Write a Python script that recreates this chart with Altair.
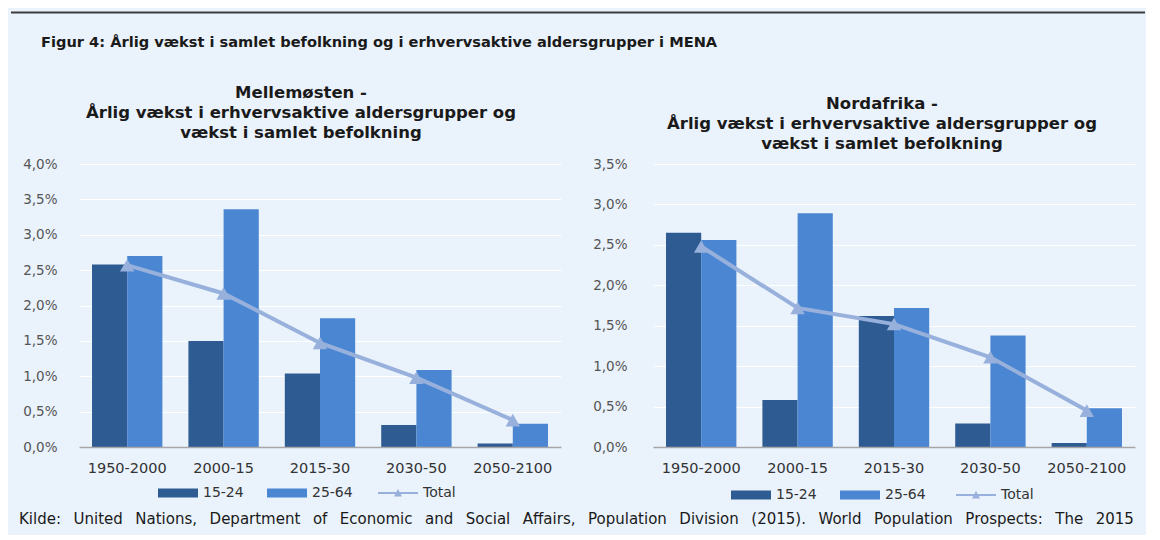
import altair as alt
import pandas as pd

periods = ["1950-2000", "2000-15", "2015-30", "2030-50", "2050-2100"]
bar_series = ["15-24", "25-64"]
total_name = ["Total"]

me_1524 = [2.58, 1.50, 1.04, 0.31, 0.05]
me_2564 = [2.70, 3.36, 1.82, 1.09, 0.33]
me_total = [2.57, 2.17, 1.47, 0.98, 0.38]

na_1524 = [2.65, 0.58, 1.62, 0.29, 0.05]
na_2564 = [2.56, 2.89, 1.72, 1.38, 0.48]
na_total = [2.48, 1.72, 1.52, 1.11, 0.45]

main_title = "Figur 4: Årlig vækst i samlet befolkning og i erhvervsaktive aldersgrupper i MENA"
left_title = ["Mellemøsten -", "Årlig vækst i erhvervsaktive aldersgrupper og", "vækst i samlet befolkning"]
right_title = ["Nordafrika  -", "Årlig vækst i erhvervsaktive aldersgrupper og", "vækst i samlet befolkning"]
source_words = ["Kilde:", "United", "Nations,", "Department", "of", "Economic", "and", "Social",
                "Affairs,", "Population", "Division", "(2015).", "World", "Population",
                "Prospects:", "The", "2015"]
source = " \u00a0\u2009".join(source_words)

DARK = "#2F5B93"
LIGHT = "#4B86D2"
TOTAL = "#97B0DC"
BG = "#EAF2FB"
FONT = "DejaVu Sans"

RECT = "M-1,-0.22H1V0.22H-1Z"
LINE_TRI = "M-1,-0.05H1V0.05H-1Z M-0.2,0.17L0,-0.2L0.2,0.17Z"

W, H = 482, 283
one = alt.Data(values=[{"k": 1}])


def panel(title_lines, v1, v2, tot, ymax, title_dx, title_offset, lx, ly, lx2, lpad):
    bar_df = pd.DataFrame({
        "period": periods * 2,
        "series": [bar_series[0]] * 5 + [bar_series[1]] * 5,
        "value": v1 + v2,
    })
    tot_df = pd.DataFrame({"period": periods, "value": tot, "name": total_name * 5})

    x_enc = alt.X("period:N", sort=periods, title=None,
                  scale=alt.Scale(paddingInner=0.27, paddingOuter=0.135),
                  axis=alt.Axis(labelAngle=0, ticks=False, domainColor="#A6A6A6",
                                domainWidth=1.5, labelPadding=14, labelFont=FONT,
                                labelFontSize=14.5, labelColor="#333333", zindex=1))
    y_enc = alt.Y("value:Q", title=None,
                  scale=alt.Scale(domain=[0, ymax], nice=False),
                  axis=alt.Axis(values=[i * 0.5 for i in range(int(ymax / 0.5) + 1)],
                                labelExpr="replace(format(datum.value, '.1f'), '.', ',') + '%'",
                                ticks=False, domain=False, gridColor="#FFFFFF",
                                gridWidth=1, labelPadding=lpad, labelFont=FONT,
                                labelFontSize=13.5, labelColor="#555555"))
    xoff = alt.XOffset("series:N", scale=alt.Scale(domain=bar_series))
    common = dict(orient="none", direction="horizontal", title=None, symbolSize=1600,
                  labelFont=FONT, labelFontSize=14, labelColor="#333333",
                  columnPadding=23, labelOffset=5, symbolStrokeWidth=0, padding=0)

    bars = alt.Chart(bar_df).mark_bar().encode(
        x=x_enc, xOffset=xoff, y=y_enc,
        fill=alt.Fill("series:N", scale=alt.Scale(domain=bar_series, range=[DARK, LIGHT]),
                      legend=alt.Legend(legendX=lx, legendY=ly, symbolType=RECT, **common)))
    line = alt.Chart(tot_df).mark_line(color=TOTAL, strokeWidth=4).encode(x=x_enc, y=y_enc)
    pts = alt.Chart(tot_df).mark_point(shape="triangle-up", filled=True, size=210,
                                       opacity=1).encode(
        x=x_enc, y=y_enc,
        color=alt.Color("name:N", scale=alt.Scale(domain=total_name, range=[TOTAL]),
                        legend=alt.Legend(legendX=lx2, legendY=ly, symbolType=LINE_TRI,
                                          symbolOpacity=1, **common)))
    return alt.layer(bars, line, pts).properties(
        width=W, height=H,
        title=alt.TitleParams(text=title_lines, fontSize=16.5, fontWeight="bold", font=FONT,
                              lineHeight=20, anchor="middle", dx=title_dx,
                              offset=title_offset, color="#1A1A1A"))


left = panel(left_title, me_1524, me_2564, me_total, 4.0, -19, 16, 79, 309, 299, 22)
right = panel(right_title, na_1524, na_2564, na_total, 3.5, -12, 5, 78, 311, 303, 26)

panels = alt.hconcat(left, right, spacing=31).resolve_scale(
    y="independent", fill="independent", color="independent").resolve_legend(
    fill="independent", color="independent")

header = alt.layer(
    alt.Chart(one).mark_rule(color="#3C3C3C", strokeWidth=2).encode(
        x=alt.value(-68), x2=alt.value(1066), y=alt.value(4.5)),
    alt.Chart(one).mark_text(text=main_title, align="left", baseline="middle",
                             font=FONT, fontSize=14.6, fontWeight="bold",
                             color="#1A1A1A").encode(x=alt.value(-38), y=alt.value(35)),
).properties(width=1000, height=66)

footer = alt.Chart(one).mark_text(text=source, align="left", baseline="middle",
                                  font=FONT, fontSize=15, color="#1A1A1A").encode(
    x=alt.value(-60), y=alt.value(7)).properties(width=1000, height=14)

chart = alt.vconcat(header, panels, footer, spacing=10).configure(
    background=BG, padding={"left": 2, "top": 0, "right": 0, "bottom": 8}
).configure_view(stroke=None)

chart.save("out.html", embed_options={"renderer": "svg", "actions": False})
